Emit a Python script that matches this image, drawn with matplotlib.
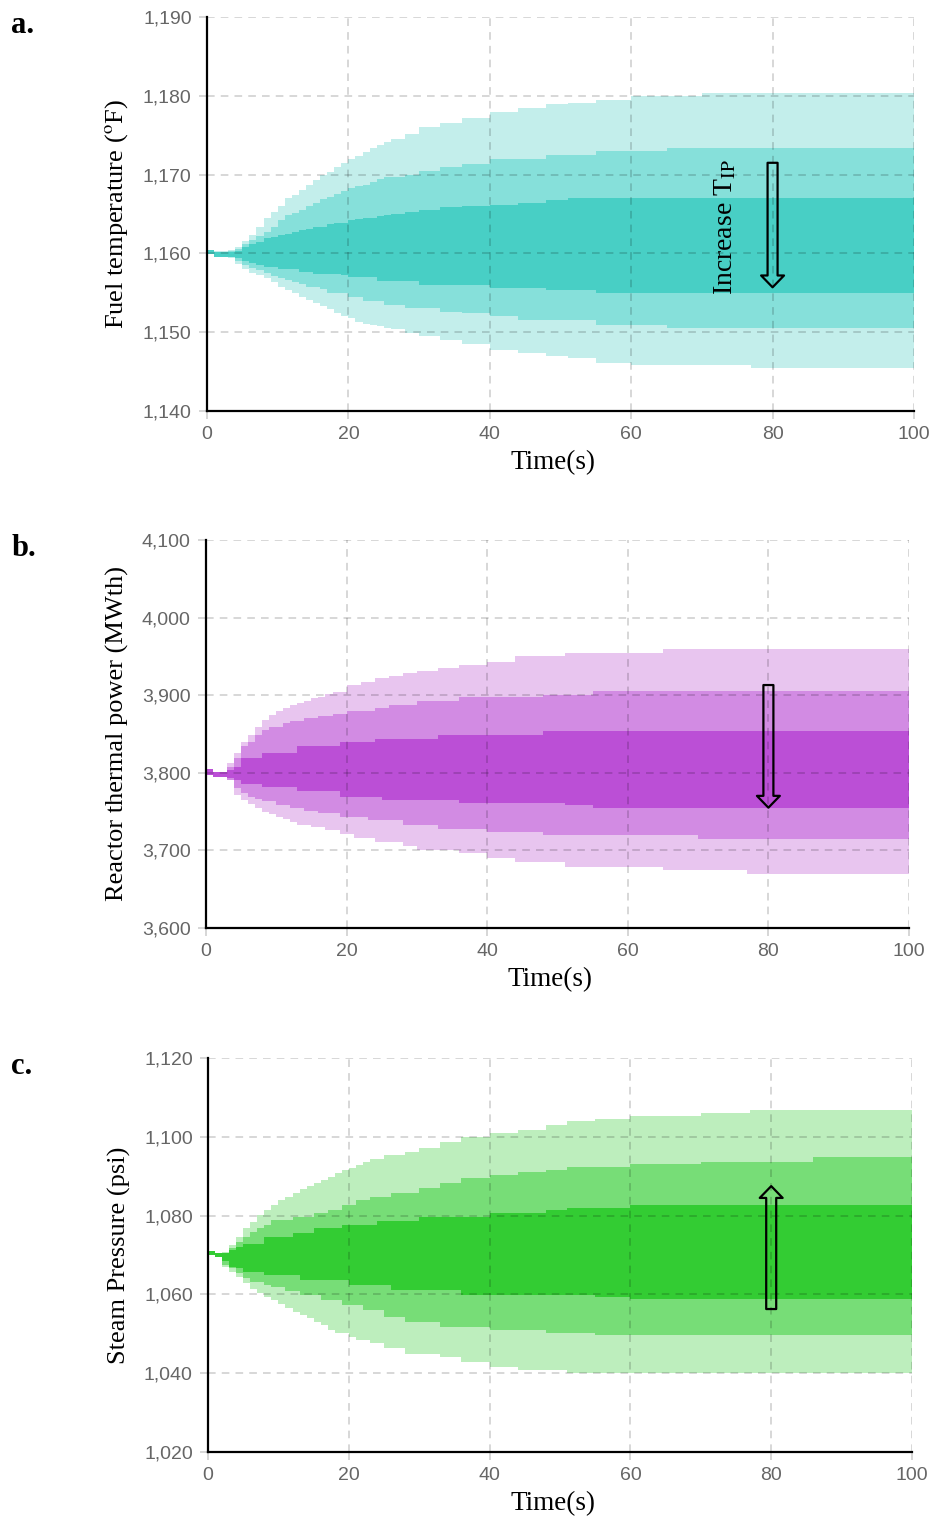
import numpy as np
import matplotlib.pyplot as plt
from matplotlib.ticker import FuncFormatter, MultipleLocator

plt.rcParams['font.family'] = ['Liberation Sans', 'DejaVu Sans']
plt.rcParams['mathtext.fontset'] = 'stix'

# time breakpoints (s); each value holds until the next breakpoint
t = [0, 1, 2, 3, 4, 5, 6, 7, 8, 9, 10, 11, 12, 13, 14, 15, 16, 17, 18, 19, 20,
     21, 22, 23, 24, 25, 26, 28, 30, 33, 36, 40, 44, 48, 51, 55, 60, 65, 70, 77, 86, 100]

# a. fuel temperature (F)
fuel_hi3 = [1160.4, 1160.3, 1160.3, 1160.4, 1160.8, 1161.6, 1162.4, 1163.4, 1164.5, 1165.3, 1166.0,
            1167.0, 1167.4, 1168.0, 1168.7, 1169.3, 1170.0, 1170.3, 1171.0, 1171.5, 1172.0,
            1172.4, 1172.9, 1173.4, 1173.8, 1174.2, 1174.5, 1175.2, 1176.0, 1176.5, 1177.2,
            1178.0, 1178.5, 1179.0, 1179.1, 1179.5, 1180.0, 1180.0, 1180.4, 1180.4, 1180.4, 1180.4]
fuel_hi2 = [1160.4, 1160.2, 1160.2, 1160.3, 1160.5, 1161.2, 1161.7, 1162.2, 1162.7, 1163.4, 1164.2,
            1164.9, 1165.1, 1165.5, 1166.0, 1166.4, 1166.9, 1167.2, 1167.5, 1167.9, 1168.3,
            1168.5, 1168.7, 1169.1, 1169.4, 1169.7, 1169.7, 1170.0, 1170.5, 1171.0, 1171.4,
            1172.0, 1172.0, 1172.5, 1172.5, 1173.0, 1173.0, 1173.4, 1173.4, 1173.4, 1173.4, 1173.4]
fuel_hi1 = [1160.4, 1160.2, 1160.2, 1160.2, 1160.3, 1160.8, 1161.2, 1161.4, 1162.0, 1162.1, 1162.3,
            1162.5, 1162.7, 1163.0, 1163.1, 1163.3, 1163.4, 1163.7, 1163.9, 1163.9, 1164.3,
            1164.4, 1164.5, 1164.5, 1164.8, 1164.9, 1165.0, 1165.3, 1165.5, 1165.9, 1166.0,
            1166.2, 1166.4, 1166.8, 1167.0, 1167.0, 1167.0, 1167.0, 1167.0, 1167.0, 1167.0, 1167.0]
fuel_lo1 = [1159.9, 1159.6, 1159.6, 1159.6, 1159.4, 1159.1, 1158.8, 1158.5, 1158.3, 1158.3, 1158.0,
            1158.0, 1158.0, 1157.7, 1157.7, 1157.4, 1157.4, 1157.4, 1157.4, 1157.2, 1157.0,
            1157.0, 1157.0, 1157.0, 1156.5, 1156.5, 1156.5, 1156.5, 1156.0, 1156.0, 1156.0,
            1155.6, 1155.6, 1155.4, 1155.4, 1155.0, 1155.0, 1155.0, 1155.0, 1155.0, 1155.0, 1155.0]
fuel_lo2 = [1159.9, 1159.6, 1159.6, 1159.5, 1159.0, 1158.5, 1158.2, 1157.9, 1157.5, 1157.1, 1156.9,
            1156.6, 1156.4, 1156.1, 1155.8, 1155.8, 1155.5, 1155.0, 1155.0, 1155.0, 1154.5,
            1154.5, 1154.0, 1154.0, 1154.0, 1153.5, 1153.5, 1153.1, 1153.1, 1152.6, 1152.4,
            1152.1, 1151.6, 1151.5, 1151.5, 1150.9, 1150.9, 1150.5, 1150.5, 1150.5, 1150.5, 1150.5]
fuel_lo3 = [1159.9, 1159.6, 1159.6, 1159.4, 1158.7, 1158.0, 1157.5, 1157.2, 1156.9, 1156.4, 1155.8,
            1155.4, 1155.0, 1154.5, 1154.1, 1153.7, 1153.3, 1152.9, 1152.4, 1152.0, 1151.8,
            1151.3, 1151.0, 1150.9, 1150.8, 1150.5, 1150.4, 1149.9, 1149.5, 1149.0, 1148.5,
            1147.8, 1147.4, 1147.0, 1146.7, 1146.1, 1145.9, 1145.9, 1145.9, 1145.5, 1145.5, 1145.5]

# b. reactor thermal power (MWth)
power_hi3 = [3805, 3801, 3801, 3812, 3825, 3840, 3849, 3859, 3868, 3874, 3880,
             3883, 3887, 3890, 3893, 3896, 3898, 3901, 3904, 3904, 3913,
             3913, 3917, 3917, 3922, 3922, 3925, 3929, 3931, 3935, 3939,
             3943, 3950, 3950, 3954, 3954, 3954, 3959, 3959, 3959, 3959, 3959]
power_hi2 = [3805, 3801, 3801, 3808, 3819, 3834, 3840, 3849, 3855, 3859, 3859,
             3864, 3867, 3867, 3870, 3870, 3873, 3873, 3876, 3876, 3879,
             3879, 3879, 3879, 3883, 3883, 3887, 3887, 3892, 3892, 3897,
             3897, 3897, 3900, 3900, 3905, 3905, 3905, 3905, 3905, 3905, 3905]
power_hi1 = [3805, 3801, 3801, 3803, 3808, 3819, 3819, 3819, 3825, 3825, 3825,
             3825, 3825, 3834, 3834, 3834, 3834, 3834, 3834, 3839, 3839,
             3839, 3839, 3839, 3844, 3844, 3844, 3844, 3844, 3849, 3849,
             3849, 3849, 3854, 3854, 3854, 3854, 3854, 3854, 3854, 3854, 3854]
power_lo1 = [3797, 3794, 3794, 3793, 3791, 3786, 3786, 3786, 3782, 3782, 3782,
             3782, 3782, 3776, 3776, 3776, 3776, 3776, 3776, 3769, 3769,
             3769, 3769, 3769, 3769, 3765, 3765, 3765, 3765, 3765, 3761,
             3761, 3761, 3761, 3758, 3754, 3754, 3754, 3754, 3754, 3754, 3754]
power_lo2 = [3797, 3794, 3794, 3791, 3780, 3774, 3769, 3766, 3763, 3763, 3758,
             3758, 3754, 3754, 3751, 3751, 3748, 3748, 3748, 3743, 3743,
             3743, 3743, 3739, 3739, 3739, 3739, 3733, 3733, 3728, 3728,
             3724, 3724, 3720, 3720, 3720, 3720, 3720, 3715, 3715, 3715, 3715]
power_lo3 = [3797, 3794, 3794, 3791, 3771, 3765, 3760, 3754, 3750, 3747, 3743,
             3740, 3737, 3733, 3733, 3730, 3730, 3726, 3726, 3721, 3721,
             3716, 3716, 3716, 3711, 3711, 3711, 3706, 3700, 3700, 3696,
             3690, 3685, 3685, 3679, 3679, 3679, 3675, 3675, 3670, 3670, 3670]

# c. steam pressure (psi)
steam_hi3 = [1071.0, 1070.6, 1070.8, 1072.5, 1074.6, 1076.8, 1078.4, 1080.2, 1081.4, 1082.7, 1084.0,
             1084.8, 1085.7, 1086.7, 1087.5, 1088.2, 1089.0, 1089.9, 1090.9, 1091.6, 1092.0,
             1092.8, 1093.7, 1094.5, 1094.5, 1095.4, 1095.4, 1096.2, 1097.1, 1098.8, 1099.9,
             1100.9, 1101.7, 1103.0, 1104.0, 1104.5, 1105.3, 1105.3, 1106.0, 1106.8, 1106.8, 1106.8]
steam_hi2 = [1071.0, 1070.6, 1070.6, 1071.7, 1073.4, 1074.6, 1075.9, 1076.8, 1077.6, 1078.9, 1078.9,
             1078.9, 1079.7, 1079.7, 1079.7, 1080.6, 1080.6, 1081.4, 1081.4, 1082.7, 1082.7,
             1084.0, 1084.0, 1084.8, 1084.8, 1084.8, 1085.8, 1085.8, 1086.9, 1088.2, 1089.5,
             1090.3, 1091.0, 1091.6, 1092.3, 1092.3, 1093.2, 1093.2, 1093.7, 1093.7, 1094.8, 1094.8]
steam_hi1 = [1071.0, 1070.6, 1070.6, 1071.3, 1072.1, 1072.8, 1072.8, 1072.8, 1074.6, 1074.6, 1074.6,
             1074.6, 1075.6, 1075.6, 1075.6, 1076.8, 1076.8, 1076.8, 1076.8, 1077.6, 1077.6,
             1077.6, 1077.6, 1077.6, 1078.7, 1078.7, 1078.7, 1078.7, 1079.7, 1079.7, 1079.7,
             1080.6, 1080.6, 1081.4, 1082.0, 1082.0, 1082.7, 1082.7, 1082.7, 1082.7, 1082.7, 1082.7]
steam_lo1 = [1070.0, 1069.5, 1068.5, 1067.0, 1066.6, 1065.8, 1065.8, 1065.8, 1064.9, 1064.9, 1064.9,
             1064.9, 1064.9, 1063.7, 1063.7, 1063.7, 1063.7, 1063.7, 1063.7, 1063.7, 1062.4,
             1062.4, 1062.4, 1062.4, 1062.4, 1062.4, 1061.1, 1061.1, 1061.1, 1061.1, 1059.8,
             1059.8, 1059.8, 1059.8, 1059.8, 1059.3, 1058.8, 1058.8, 1058.8, 1058.8, 1058.8, 1058.8]
steam_lo2 = [1070.0, 1069.5, 1067.5, 1066.6, 1065.4, 1064.1, 1063.2, 1063.2, 1062.4, 1061.8, 1061.8,
             1060.9, 1060.9, 1059.8, 1059.8, 1059.8, 1058.6, 1058.6, 1058.6, 1057.3, 1057.3,
             1057.3, 1056.0, 1056.0, 1056.0, 1054.3, 1054.3, 1053.1, 1053.1, 1051.8, 1051.8,
             1051.0, 1051.0, 1050.1, 1050.1, 1049.7, 1049.7, 1049.7, 1049.7, 1049.7, 1049.7, 1049.7]
steam_lo3 = [1070.0, 1069.5, 1067.0, 1065.8, 1064.5, 1063.0, 1061.5, 1060.3, 1059.4, 1058.6, 1057.6,
             1056.5, 1055.6, 1054.8, 1053.9, 1053.1, 1052.2, 1051.0, 1050.1, 1050.1, 1049.3,
             1048.4, 1048.4, 1047.6, 1047.6, 1046.3, 1046.3, 1045.0, 1045.0, 1044.2, 1042.9,
             1041.6, 1040.8, 1040.8, 1040.0, 1040.0, 1040.0, 1040.0, 1040.0, 1040.0, 1040.0, 1040.0]

panels = [
    dict(letter='a.', rect=[0.2214, 0.7296, 0.7561, 0.2592], ylim=(1140, 1190), step=10,
         ylabel=r'Fuel temperature ($^{\mathrm{o}}$F)',
         bands=[(fuel_lo3, fuel_hi3), (fuel_lo2, fuel_hi2), (fuel_lo1, fuel_hi1)],
         colors=['#c3eeeb', '#86e0da', '#48cfc5'],
         arrow=(1171.5, 1155.7)),
    dict(letter='b.', rect=[0.2203, 0.3895, 0.7519, 0.2553], ylim=(3600, 4100), step=100,
         ylabel='Reactor thermal power (MWth)',
         bands=[(power_lo3, power_hi3), (power_lo2, power_hi2), (power_lo1, power_hi1)],
         colors=['#e8c5ef', '#d28be3', '#bb4fd6'],
         arrow=(3913, 3755)),
    dict(letter='c.', rect=[0.2225, 0.0447, 0.7529, 0.2592], ylim=(1020, 1120), step=20,
         ylabel='Steam Pressure (psi)',
         bands=[(steam_lo3, steam_hi3), (steam_lo2, steam_hi2), (steam_lo1, steam_hi1)],
         colors=['#bdeebd', '#77dd77', '#33cc33'],
         arrow=(1056.3, 1087.5)),
]

fig = plt.figure(figsize=(9.35, 15.2), dpi=100)
serif = ['Liberation Serif', 'DejaVu Serif']

for p in panels:
    ax = fig.add_axes(p['rect'])
    for (lo, hi), c in zip(p['bands'], p['colors']):
        ax.fill_between(t, lo, hi, step='post', color=c, lw=0, zorder=1)

    ax.set_xlim(0, 100)
    ax.set_ylim(*p['ylim'])
    ax.xaxis.set_major_locator(MultipleLocator(20))
    ax.yaxis.set_major_locator(MultipleLocator(p['step']))
    ax.yaxis.set_major_formatter(FuncFormatter(lambda v, _: f'{v:,.0f}'))
    ax.set_axisbelow(False)
    ax.grid(True, color='k', alpha=0.2, linestyle=(0, (5, 4)), lw=1.1)

    for s in ['top', 'right']:
        ax.spines[s].set_visible(False)
    for s in ['left', 'bottom']:
        ax.spines[s].set_linewidth(1.6)
        ax.spines[s].set_zorder(3)
    ax.tick_params(colors='#cccccc', labelcolor='#666666', labelsize=14, length=6, width=1.1, pad=5)

    ax.set_xlabel('Time(s)', family=serif, fontsize=19.5, labelpad=5)
    ax.xaxis.label.set_x(0.49)
    ax.set_ylabel(p['ylabel'], family=serif, fontsize=19, labelpad=9)

    y0, y1 = p['arrow']
    ax.annotate('', xy=(80, y1), xytext=(80, y0),
                arrowprops=dict(arrowstyle='simple,head_width=1.65,head_length=0.85,tail_width=0.72',
                                mutation_scale=10, fc='none', ec='k', lw=1.6,
                                shrinkA=0, shrinkB=0), zorder=4)

    fig.text(0.012, p['rect'][1] + p['rect'][3] + 0.004, p['letter'], family=serif,
             fontsize=22, fontweight='bold', va='top', ha='left')

    if p['letter'] == 'a.':
        ax.text(73.3, 1163.3, r'Increase T$_{\mathrm{IP}}$', rotation=90, family=serif,
                fontsize=20, ha='center', va='center', zorder=4)

fig.savefig('out.png', dpi=100)
